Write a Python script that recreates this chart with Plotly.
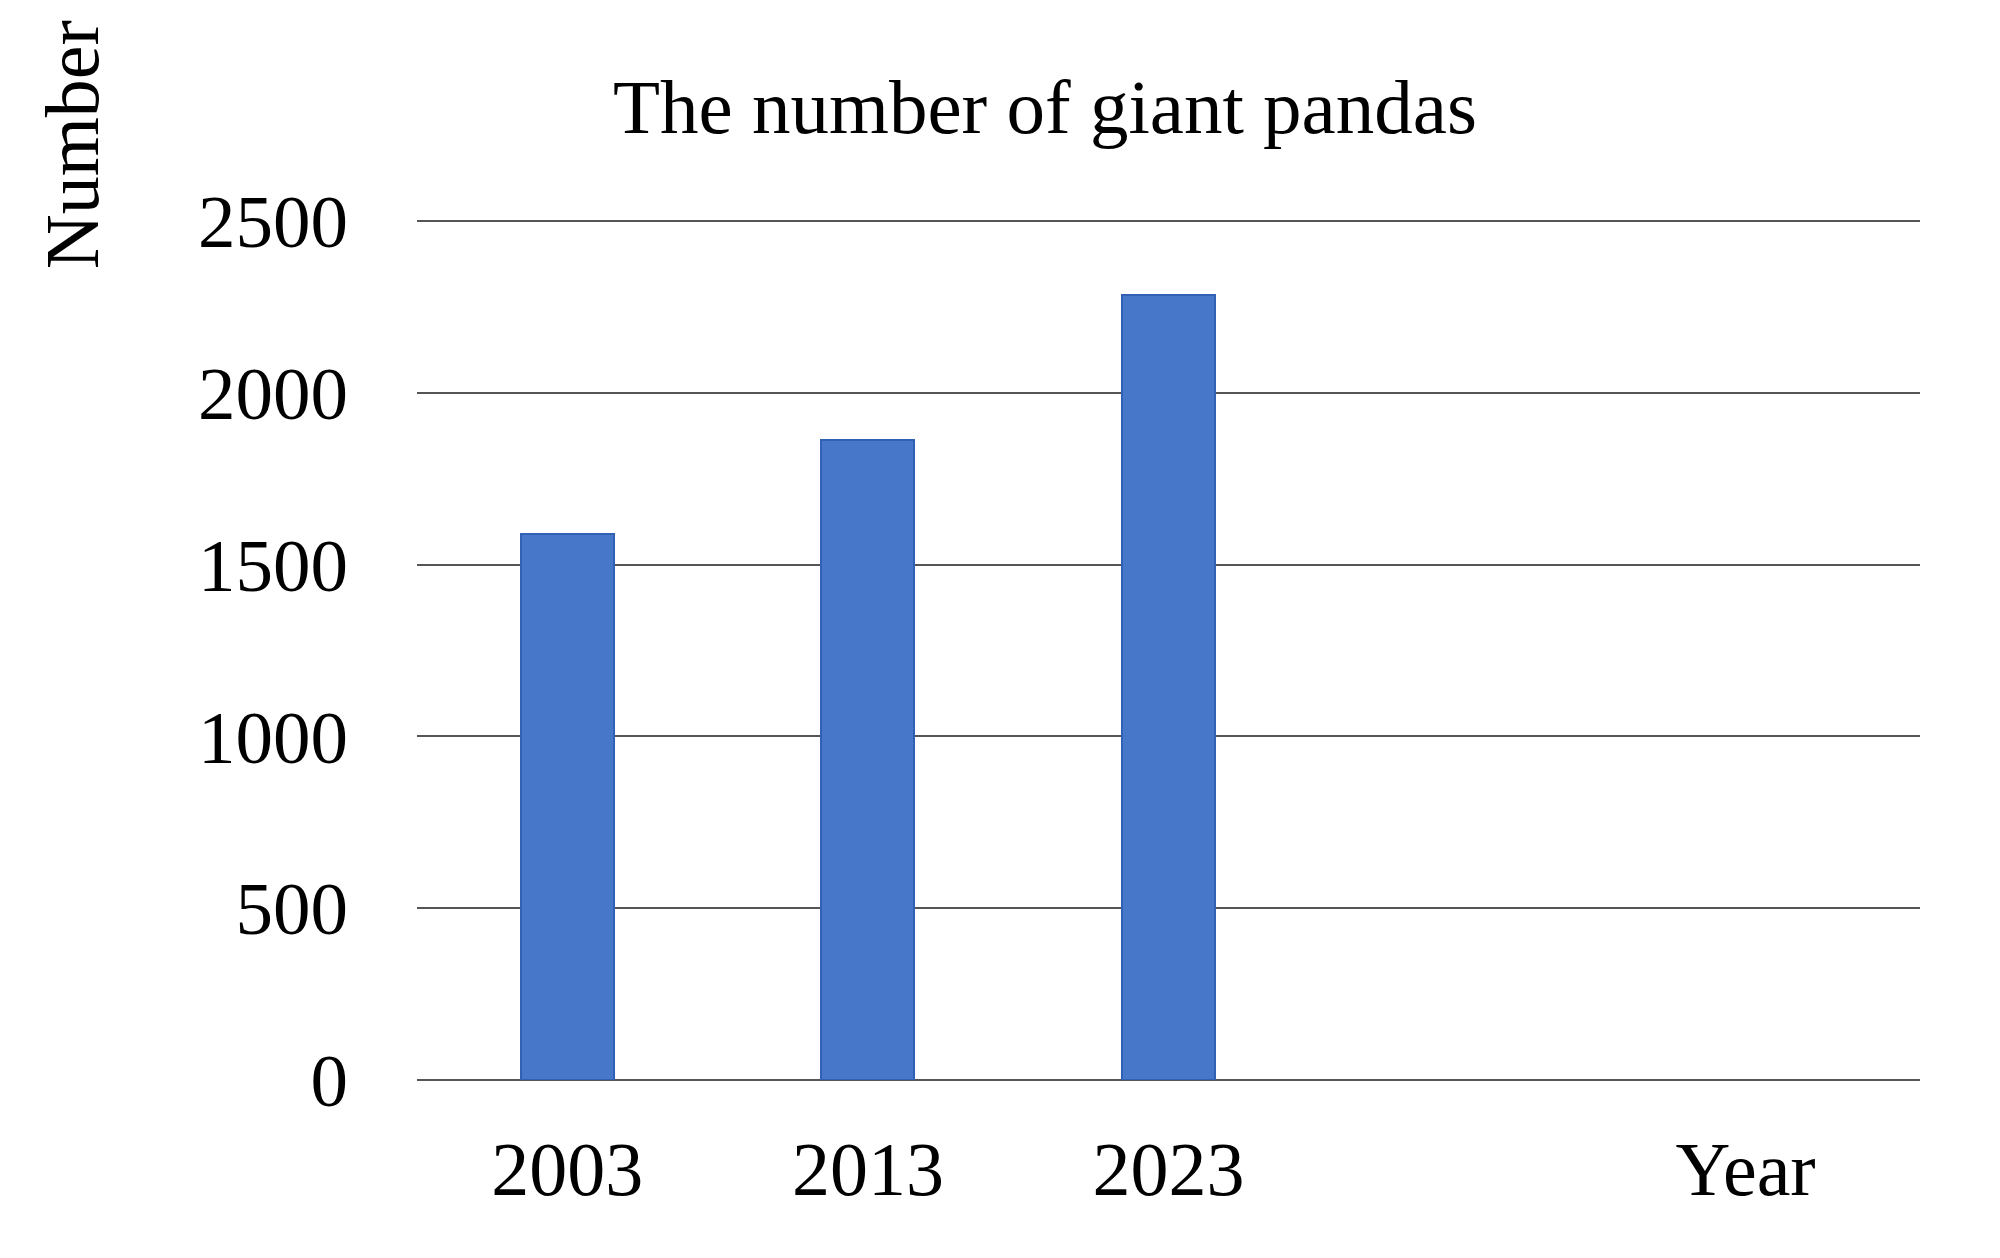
import plotly.graph_objects as go

# data
years = ["2003", "2013", "2023"]
panda_counts = [1590, 1862, 2285]
slot_labels = ["2003", "2013", "2023", "Year"]
slot_positions = [0, 1, 2, 3.92]
y_ticks = [0, 500, 1000, 1500, 2000, 2500]

FONT = "Liberation Serif, Times New Roman, serif"

fig = go.Figure()
fig.add_trace(go.Bar(
    x=list(range(len(years))), y=panda_counts, width=0.31,
    marker=dict(color="#4677C9", line=dict(color="#3260B4", width=2)),
    hoverinfo="y", showlegend=False,
))

# the page body has an 8px margin, so everything is pulled back by 8px
fig.update_layout(
    width=2000, height=1258,
    paper_bgcolor="white", plot_bgcolor="white",
    margin=dict(l=409, r=88, t=212, b=186),
    font=dict(family=FONT, size=75, color="black"),
    title=dict(text="The number of giant pandas", x=0.5185, xanchor="center",
               y=1 - 98 / 1258, yanchor="middle", yref="container",
               font=dict(family=FONT, size=77, color="black")),
    bargap=0,
)

fig.update_xaxes(
    range=[-0.5, 4.5], tickvals=slot_positions, ticktext=slot_labels,
    showgrid=False, zeroline=False, showline=False, ticks="",
    ticklabelstandoff=38, tickfont=dict(family=FONT, size=76),
)
fig.update_yaxes(
    range=[0, 2503], tickvals=y_ticks, showgrid=True, gridcolor="#555555", gridwidth=1.5,
    zeroline=True, zerolinecolor="#555555", zerolinewidth=1.5, showline=False, ticks="",
    ticklabelstandoff=68, tickfont=dict(family=FONT, size=75),
)

fig.add_annotation(text="Number", textangle=-90, xref="paper", yref="paper",
                   x=-0.229, y=1.088, xanchor="center", yanchor="middle",
                   showarrow=False, font=dict(family=FONT, size=76, color="black"))

fig.write_html("out.html")
